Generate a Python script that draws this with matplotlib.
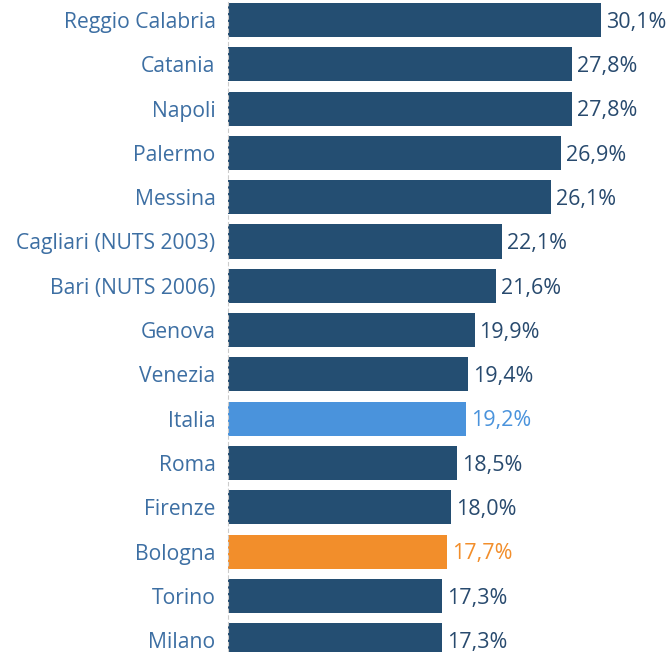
import matplotlib
matplotlib.use("Agg")
import matplotlib.pyplot as plt

cities = ['Reggio Calabria', 'Catania', 'Napoli', 'Palermo', 'Messina',
          'Cagliari (NUTS 2003)', 'Bari (NUTS 2006)', 'Genova', 'Venezia',
          'Italia', 'Roma', 'Firenze', 'Bologna', 'Torino', 'Milano']
values = [30.1, 27.8, 27.8, 26.9, 26.1, 22.1, 21.6, 19.9, 19.4,
          19.2, 18.5, 18.0, 17.7, 17.3, 17.3]

NAVY = '#244e72'
colors = {'Italia': '#4a93dc', 'Bologna': '#f28e2b'}
text_colors = {'Italia': '#4a93dc', 'Bologna': '#f28e2b'}

plt.rcParams['font.family'] = ['Open Sans', 'DejaVu Sans']

fig = plt.figure(figsize=(6.7, 6.52), dpi=100)
ax = fig.add_axes([228 / 670, 0, 1 - 228 / 670, 1])

y = list(range(len(cities)))
bar_cols = [colors.get(c, NAVY) for c in cities]
ax.barh(y, values, height=0.77, color=bar_cols)

for i, (c, v) in enumerate(zip(cities, values)):
    ax.text(v + 0.4, i + 0.05, f"{v:.1f}%".replace('.', ','), va='center', ha='left',
            fontsize=15.5, color=text_colors.get(c, '#284a6e'))

ax.set_xlim(0, 442 / 12.39)
ax.set_ylim((652 - 20) / 44.3, -20 / 44.3)
ax.set_yticks(y)
ax.set_yticklabels(cities, fontsize=15.2, color='#3d6fa3')
ax.tick_params(axis='y', length=0, pad=9)
ax.set_xticks([])
for s in ['top', 'right', 'bottom']:
    ax.spines[s].set_visible(False)
ax.spines['left'].set_color('#cccccc')
ax.spines['left'].set_linestyle((0, (3, 3)))
ax.spines['left'].set_linewidth(0.8)

fig.savefig('out.png', dpi=100)
